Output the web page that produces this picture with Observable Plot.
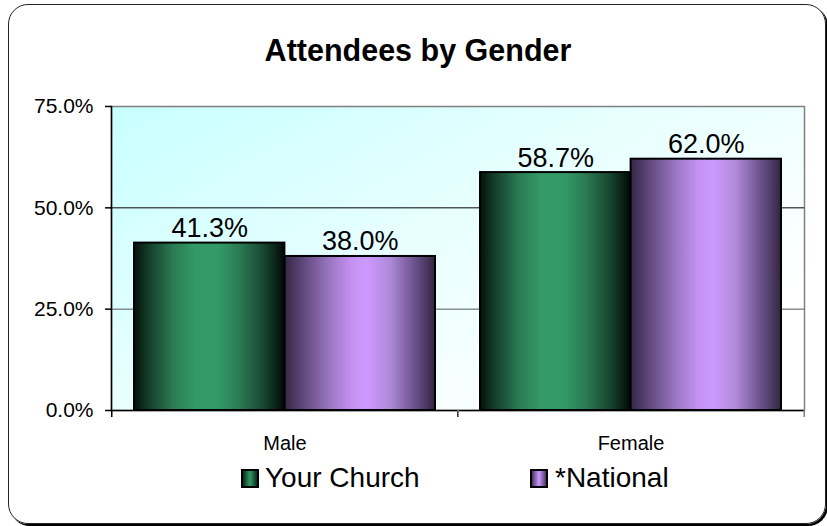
<!DOCTYPE html>
<html>
<head>
<meta charset="utf-8">
<script src="https://cdn.jsdelivr.net/npm/d3@7"></script>
<script src="https://cdn.jsdelivr.net/npm/@observablehq/plot@0.6"></script>
<style>
  html, body { margin: 0; padding: 0; background: #fff; }
  #wrap { position: relative; width: 827px; height: 526px; overflow: hidden; font-family: "Liberation Sans", Arial, sans-serif; color: #000; }
  #border { position: absolute; left: 8px; top: 4px; width: 818px; height: 520px; box-sizing: border-box; border: 1.5px solid #222; border-radius: 20px; box-shadow: 2px 2px 0 #000; pointer-events: none; }
  #chart { position: absolute; left: 0; top: 0; }
  #title { position: absolute; left: 118px; width: 600px; top: 36px; text-align: center; font-weight: bold; font-size: 30.5px; line-height: 29px; white-space: nowrap; }
  .leg { position: absolute; top: 464px; font-size: 28px; line-height: 28px; white-space: nowrap; }
  .sw { position: absolute; width: 18px; height: 19px; box-sizing: border-box; border: 2px solid #000; }
</style>
</head>
<body>
<div id="wrap">
  <div id="chart"></div>
  <div id="title"></div>
  <div id="legend"></div>
  <div id="border"></div>
</div>
<script>
// ---- data ----
const chartTitle = "Attendees by Gender";
const categories = ["Male", "Female"];
const series = ["Your Church", "*National"];
const yourChurch = [41.3, 58.7];
const national = [38.0, 62.0];
const yTicks = [0, 25, 50, 75];

const rows = categories.map((c, i) => ({category: c, church: yourChurch[i], national: national[i]}));
const fmt = v => v.toFixed(1) + "%";
const FONT = "Liberation Sans, Arial, sans-serif";
const half = 150.6; // half of the group width (style)

const chart = Plot.plot({
  width: 827,
  height: 526,
  marginLeft: 111,
  marginRight: 23,
  marginTop: 106,
  marginBottom: 116,
  style: {background: "transparent", fontFamily: FONT, fontSize: "20px", color: "#000", overflow: "visible"},
  x: {domain: categories, paddingInner: 0.1304, paddingOuter: 0.0652, align: 0.5, label: null},
  y: {domain: [0, 75], label: null},
  marks: [
    Plot.frame({fill: "url(#bgGrad)", stroke: "#808080", strokeWidth: 1.5}),
    Plot.ruleY(yTicks.filter(v => v > 0 && v < 75), {stroke: d => d === 50 ? "#000" : "#555", strokeWidth: 1}),
    Plot.barY(rows, {x: "category", y: "church", fill: "url(#gChurch)", stroke: "#000", strokeWidth: 2, insetLeft: 0, insetRight: half}),
    Plot.barY(rows, {x: "category", y: "national", fill: "url(#gNat)", stroke: "#000", strokeWidth: 2, insetLeft: half, insetRight: 0}),
    Plot.ruleY([0], {stroke: "#000", strokeWidth: 1.5}),
    Plot.frame({anchor: "left", stroke: "#000", strokeWidth: 1.5}),
    Plot.axisY(yTicks, {tickSize: 6, tickPadding: 12, tickFormat: fmt, fontSize: 21, stroke: "#000", strokeWidth: 1.5, label: null}),
    Plot.axisX({tickSize: 0, tickPadding: 25, fontSize: 20, label: null}),
    Plot.axisX({tickSize: 7, tickFormat: () => "", dx: -173.25, stroke: "#000", strokeWidth: 1.5, label: null}),
    Plot.axisX({tickSize: 7, tickFormat: () => "", dx: 173.25, stroke: "#808080", strokeWidth: 1.5, label: null}),
    Plot.text(rows, {x: "category", y: "church", text: d => fmt(d.church), dx: -half / 2, dy: -6, lineAnchor: "bottom", fontSize: 27, fill: "#000"}),
    Plot.text(rows, {x: "category", y: "national", text: d => fmt(d.national), dx: half / 2, dy: -6, lineAnchor: "bottom", fontSize: 27, fill: "#000"})
  ]
});

const defs = d3.select(chart).insert("defs", ":first-child");
defs.html(`
  <linearGradient id="bgGrad" x1="0" y1="0" x2="1" y2="0.8">
    <stop offset="0" stop-color="#c8ffff"/>
    <stop offset="0.45" stop-color="#e6ffff"/>
    <stop offset="0.9" stop-color="#ffffff"/>
  </linearGradient>
  <linearGradient id="gChurch" x1="0" y1="0" x2="1" y2="0">
    <stop offset="0" stop-color="#03110a"/>
    <stop offset="0.1" stop-color="#143f2b"/>
    <stop offset="0.26" stop-color="#2b7b53"/>
    <stop offset="0.4" stop-color="#339966"/>
    <stop offset="0.56" stop-color="#339966"/>
    <stop offset="0.7" stop-color="#2b7b53"/>
    <stop offset="0.86" stop-color="#184832"/>
    <stop offset="1" stop-color="#010805"/>
  </linearGradient>
  <linearGradient id="gNat" x1="0" y1="0" x2="1" y2="0">
    <stop offset="0" stop-color="#352744"/>
    <stop offset="0.12" stop-color="#5e477a"/>
    <stop offset="0.3" stop-color="#9b76c2"/>
    <stop offset="0.45" stop-color="#c592f3"/>
    <stop offset="0.55" stop-color="#cc99ff"/>
    <stop offset="0.7" stop-color="#b08ad8"/>
    <stop offset="0.86" stop-color="#6c5390"/>
    <stop offset="1" stop-color="#33263f"/>
  </linearGradient>
`);
document.getElementById("chart").appendChild(chart);
document.getElementById("title").textContent = chartTitle;

// legend
const legend = document.getElementById("legend");
const legPos = [{sw: 241, tx: 265}, {sw: 530, tx: 555}];
const swFill = ["linear-gradient(90deg,#0a2a1a,#339966 50%,#0a2a1a)", "linear-gradient(90deg,#4a3560,#cc99ff 50%,#4a3560)"];
series.forEach((s, i) => {
  const sw = document.createElement("div");
  sw.className = "sw";
  sw.style.left = legPos[i].sw + "px";
  sw.style.top = "469px";
  sw.style.background = swFill[i];
  legend.appendChild(sw);
  const t = document.createElement("div");
  t.className = "leg";
  t.style.left = legPos[i].tx + "px";
  t.textContent = s;
  legend.appendChild(t);
});
</script>
</body>
</html>
